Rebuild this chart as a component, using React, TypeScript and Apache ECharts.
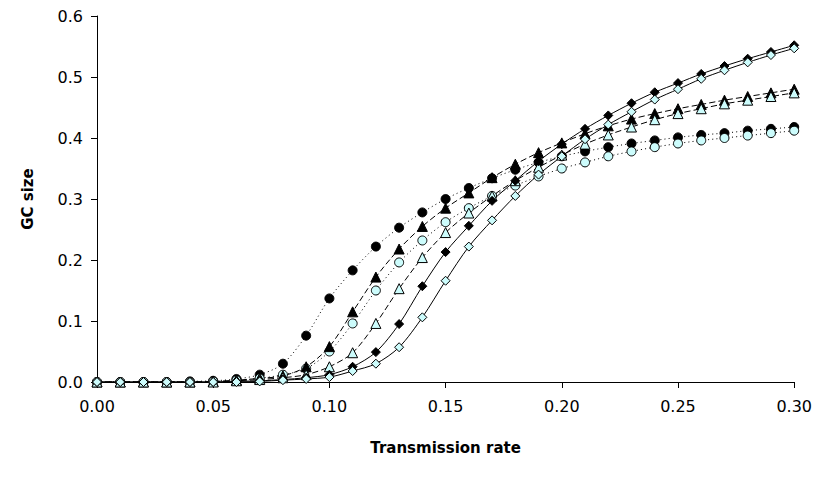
import React, { useEffect, useRef } from "react";
import * as echarts from "echarts";

const xs = Array.from({ length: 31 }, (_, i) => +(i * 0.01).toFixed(2));
const filledCircle = [0,0,0,0,0.001,0.002,0.005,0.012,0.03,0.076,0.137,0.183,0.222,0.253,0.278,0.300,0.318,0.334,0.348,0.360,0.370,0.378,0.385,0.391,0.396,0.401,0.405,0.408,0.412,0.415,0.418];
const openCircle = [0,0,0,0,0,0.001,0.003,0.006,0.012,0.022,0.05,0.096,0.150,0.196,0.232,0.262,0.285,0.305,0.322,0.337,0.350,0.360,0.370,0.378,0.385,0.391,0.396,0.400,0.404,0.408,0.412];
const filledTriangle = [0,0,0,0,0,0.001,0.003,0.006,0.01,0.025,0.058,0.115,0.172,0.218,0.255,0.285,0.310,0.335,0.357,0.376,0.392,0.407,0.420,0.431,0.440,0.448,0.455,0.462,0.468,0.474,0.480];
const openTriangle = [0,0,0,0,0,0,0.002,0.004,0.007,0.012,0.025,0.048,0.096,0.153,0.204,0.245,0.277,0.305,0.330,0.352,0.372,0.390,0.405,0.418,0.430,0.440,0.448,0.456,0.462,0.468,0.474];
const filledDiamond = [0,0,0,0,0,0,0.001,0.002,0.004,0.007,0.012,0.025,0.049,0.095,0.157,0.213,0.256,0.297,0.330,0.362,0.390,0.415,0.437,0.457,0.475,0.490,0.505,0.518,0.530,0.541,0.552];
const openDiamond = [0,0,0,0,0,0,0,0.001,0.003,0.005,0.008,0.018,0.03,0.057,0.106,0.166,0.222,0.265,0.305,0.340,0.370,0.398,0.422,0.443,0.463,0.480,0.497,0.511,0.524,0.536,0.547];

const CYAN = "#ccfcfc";
const diamond = "path://M0,-1L1,0L0,1L-1,0Z";
const FONT = "DejaVu Sans";

export default function App() {
  const ref = useRef<HTMLDivElement>(null);
  useEffect(() => {
    const chart = echarts.init(ref.current!, null, { renderer: "svg" });
    const mk = (data: number[], symbol: string, fill: string, type: any, size: number) => ({
      type: "line",
      data: xs.map((x, i) => [x, data[i]]),
      smooth: 0.3,
      symbol,
      symbolSize: size,
      showSymbol: true,
      lineStyle: { color: "#000", width: 1, type },
      itemStyle: { color: fill, borderColor: "#000", borderWidth: 1 },
    });
    chart.setOption({
      animation: false,
      grid: { left: 89, right: 18, top: 6, bottom: 88 },
      xAxis: {
        type: "value", min: 0, max: 0.3, interval: 0.05,
        name: "Transmission rate", nameLocation: "middle", nameGap: 58,
        nameTextStyle: { fontFamily: FONT, fontSize: 15, fontWeight: "bold", color: "#000" },
        axisLine: { lineStyle: { color: "#000" } },
        axisTick: { show: true, length: 6, lineStyle: { color: "#000" } },
        axisLabel: { formatter: (v: number) => v.toFixed(2), fontFamily: FONT, fontSize: 16, fontWeight: 500, color: "#000", margin: 16 },
        splitLine: { show: false },
      },
      yAxis: {
        type: "value", min: 0, max: 0.6, interval: 0.1,
        name: "GC size", nameLocation: "middle", nameGap: 62,
        nameTextStyle: { fontFamily: FONT, fontSize: 15, fontWeight: "bold", color: "#000" },
        axisLine: { show: true, lineStyle: { color: "#000" } },
        axisTick: { show: true, length: 6, lineStyle: { color: "#000" } },
        axisLabel: { formatter: (v: number) => v.toFixed(1), fontFamily: FONT, fontSize: 16, fontWeight: 500, color: "#000", margin: 14 },
        splitLine: { show: false },
      },
      series: [
        mk(filledCircle, "circle", "#000", [1, 3], 9),
        mk(openCircle, "circle", CYAN, [1, 3], 9),
        mk(filledTriangle, "triangle", "#000", [6, 3], 10),
        mk(openTriangle, "triangle", CYAN, [6, 3], 10),
        mk(filledDiamond, diamond, "#000", "solid", 9),
        mk(openDiamond, diamond, CYAN, "solid", 9),
      ],
    });
    return () => chart.dispose();
  }, []);
  return <div ref={ref} style={{ width: 807, height: 462 }} />;
}
